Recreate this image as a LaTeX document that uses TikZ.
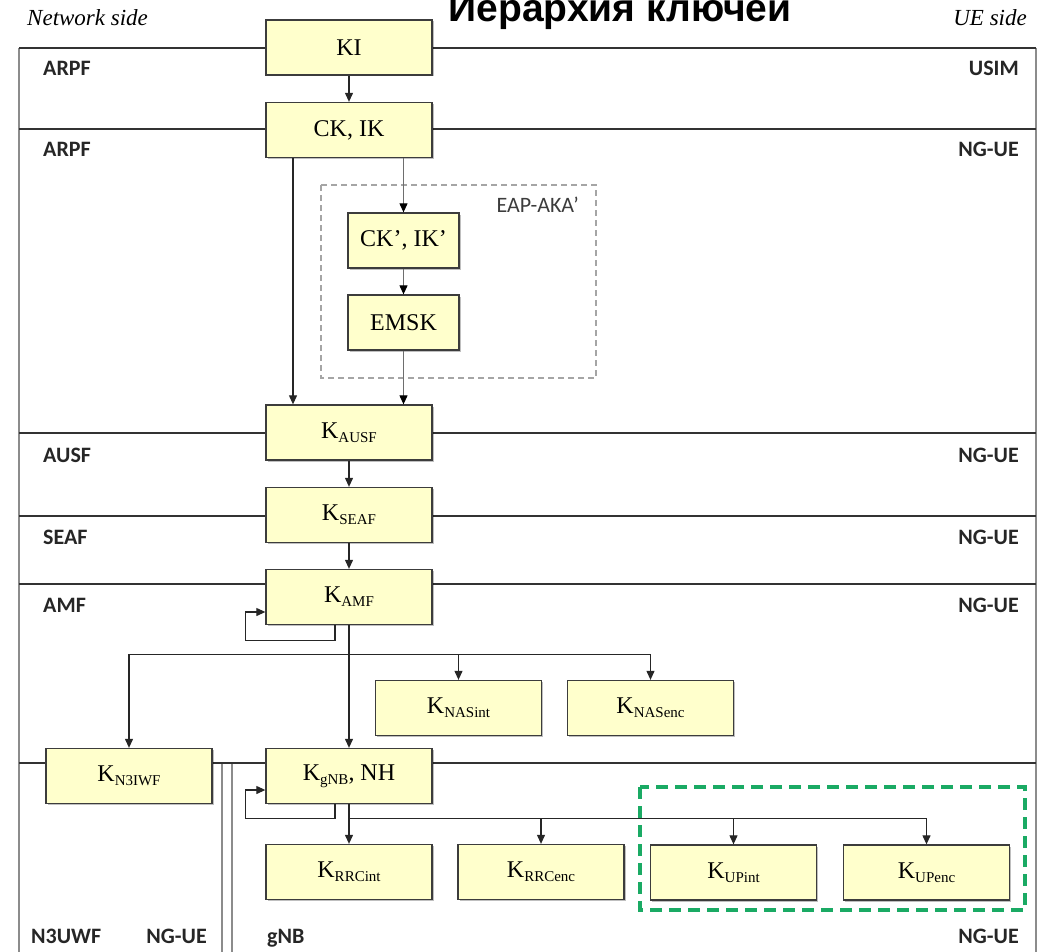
\documentclass[tikz,border=0pt]{standalone}
\usepackage{fontspec}
\setmainfont{Liberation Serif}
\newfontfamily\labfont{Carlito}
\newfontfamily\titlefont{Liberation Sans}
\usetikzlibrary{arrows.meta,calc,shadows}

\definecolor{boxfill}{RGB}{255,255,204}
\definecolor{boxline}{RGB}{60,60,60}
\definecolor{sepline}{RGB}{50,50,50}
\definecolor{frameline}{RGB}{140,140,140}
\definecolor{upgreen}{RGB}{26,170,100}
\definecolor{eapgray}{RGB}{165,165,165}
\definecolor{labgray}{RGB}{60,60,60}
\definecolor{arrgray}{RGB}{110,110,110}

% key name with a lowered subscript
\newcommand{\keysub}[1]{\raisebox{-4pt}{\fontsize{15}{16}\selectfont #1}}

\begin{document}
\begin{tikzpicture}[x=1pt,y=-1pt,
  kbox/.style={draw=boxline, fill=boxfill, line width=1.3pt,
    minimum width=166pt, minimum height=55pt, inner sep=0pt,
    font=\fontsize{24}{26}\selectfont,
    drop shadow={shadow xshift=1.5pt, shadow yshift=-1.5pt, opacity=0.25, fill=black}},
  narrowbox/.style={kbox, minimum width=111pt},
  arr/.style={draw=black!85, line width=1.1pt, -{Triangle[length=9pt,width=8pt]}},
  grayarr/.style={arr, draw=arrgray, -{Triangle[length=9pt,width=8pt,fill=black,color=black]}},
  sep/.style={draw=sepline, line width=1.5pt},
  frame/.style={draw=frameline, line width=1.6pt},
  zone/.style={font=\labfont\bfseries\fontsize{22}{23}\selectfont, text=black!85, inner sep=0pt},
  side/.style={font=\itshape\fontsize{23}{24}\selectfont, inner sep=0pt},
]
\clip (0,0) rectangle (1046,952);

% titles
\node[font=\titlefont\bfseries\fontsize{39}{40}\selectfont, anchor=base, inner sep=0pt] (title) at (620,22) {Иерархия ключей};
\node[side, anchor=base west] (netside) at (27,26) {Network side};
\node[side, anchor=base east] (ueside) at (1027,26) {UE side};

% frame and domain separators
\draw[frame] (19,48) -- (19,952);
\draw[frame] (1036,48) -- (1036,952);
\draw[frame] (222,763) -- (222,952);
\draw[frame] (232,763) -- (232,952);
\foreach \yy in {48,129,433,516,584,763}
  \draw[sep] (19,\yy) -- (1036,\yy);

% domain labels
\node[zone, anchor=base west] (z1l) at (43,76) {ARPF};
\node[zone, anchor=base east] (z1r) at (1019,76) {USIM};
\node[zone, anchor=base west] (z2l) at (43,157) {ARPF};
\node[zone, anchor=base east] (z2r) at (1019,157) {NG-UE};
\node[zone, anchor=base west] (z3l) at (43,462) {AUSF};
\node[zone, anchor=base east] (z3r) at (1019,462) {NG-UE};
\node[zone, anchor=base west] (z4l) at (43,544) {SEAF};
\node[zone, anchor=base east] (z4r) at (1019,544) {NG-UE};
\node[zone, anchor=base west] (z5l) at (43,612) {AMF};
\node[zone, anchor=base east] (z5r) at (1019,612) {NG-UE};
\node[zone, anchor=base west] (z6a) at (31,943) {N3UWF};
\node[zone, anchor=base east] (z6b) at (207,943) {NG-UE};
\node[zone, anchor=base west] (z7a) at (267,943) {gNB};
\node[zone, anchor=base east] (z7b) at (1019,943) {NG-UE};

% EAP-AKA' group
\draw[draw=eapgray, line width=1.3pt, dash pattern=on 6pt off 4pt] (321,185) rectangle (596,378);
\node[font=\labfont\fontsize{22}{24}\selectfont, text=labgray, anchor=base east, inner sep=0pt] (eap) at (579,212) {EAP-AKA’};

% user plane group
\draw[draw=upgreen, line width=3.5pt, dash pattern=on 12pt off 7pt] (640,787) rectangle (1025,910);

% keys
\node[kbox] (ki) at (349,47.5) {KI};
\node[kbox] (ck) at (349,130) {CK, IK};
\node[narrowbox] (ckp) at (403.5,240.5) {CK’, IK’};
\node[narrowbox] (emsk) at (403.5,322.5) {EMSK};
\node[kbox] (kausf) at (349,432.5) {K\keysub{AUSF}};
\node[kbox] (kseaf) at (349,515) {K\keysub{SEAF}};
\node[kbox] (kamf) at (349,597) {K\keysub{AMF}};
\node[kbox] (knasi) at (458.5,708) {K\keysub{NASint}};
\node[kbox] (knase) at (650.5,708) {K\keysub{NASenc}};
\node[kbox] (kn3) at (129,776) {K\keysub{N3IWF}};
\node[kbox] (kgnb) at (349,776) {K\keysub{gNB}, NH};
\node[kbox] (krrci) at (349,872) {K\keysub{RRCint}};
\node[kbox] (krrce) at (541,872) {K\keysub{RRCenc}};
\node[kbox] (kupi) at (733.5,872.5) {K\keysub{UPint}};
\node[kbox] (kupe) at (926.5,872.5) {K\keysub{UPenc}};

% derivations
\draw[arr] (ki) -- (ck);
\draw[arr] ($(ck.south)+(-56,0)$) -- ($(kausf.north)+(-56,0)$);
\draw[grayarr] (ck.south -| ckp.north) -- (ckp.north);
\draw[grayarr] (ckp) -- (emsk);
\draw[grayarr] (emsk.south) -- (emsk.south |- kausf.north);
\draw[arr] (kausf) -- (kseaf);
\draw[arr] (kseaf) -- (kamf);

% K_AMF: re-derivation loop and branches
\draw[arr] ($(kamf.south)+(-14,0)$) -- ++(0,15) -| ($(kamf.west)+(-20,15)$) -- ($(kamf.west)+(0,15)$);
\coordinate (j1) at ($(kamf.south)+(0,29)$);
\draw[arr] (kamf) -- (kgnb);
\draw[arr] (j1) -| (kn3.north);
\draw[arr] (j1) -| (knasi.north);
\draw[arr] (j1) -| (knase.north);

% K_gNB: re-derivation loop and branches
\draw[arr] ($(kgnb.south)+(-14,0)$) -- ++(0,14) -| ($(kgnb.west)+(-20,14)$) -- ($(kgnb.west)+(0,14)$);
\coordinate (j2) at ($(kgnb.south)+(0,14)$);
\draw[arr] (kgnb) -- (krrci);
\draw[arr] (j2) -| (krrce.north);
\draw[arr] (j2) -| (kupi.north);
\draw[arr] (j2) -| (kupe.north);
\end{tikzpicture}
\end{document}
